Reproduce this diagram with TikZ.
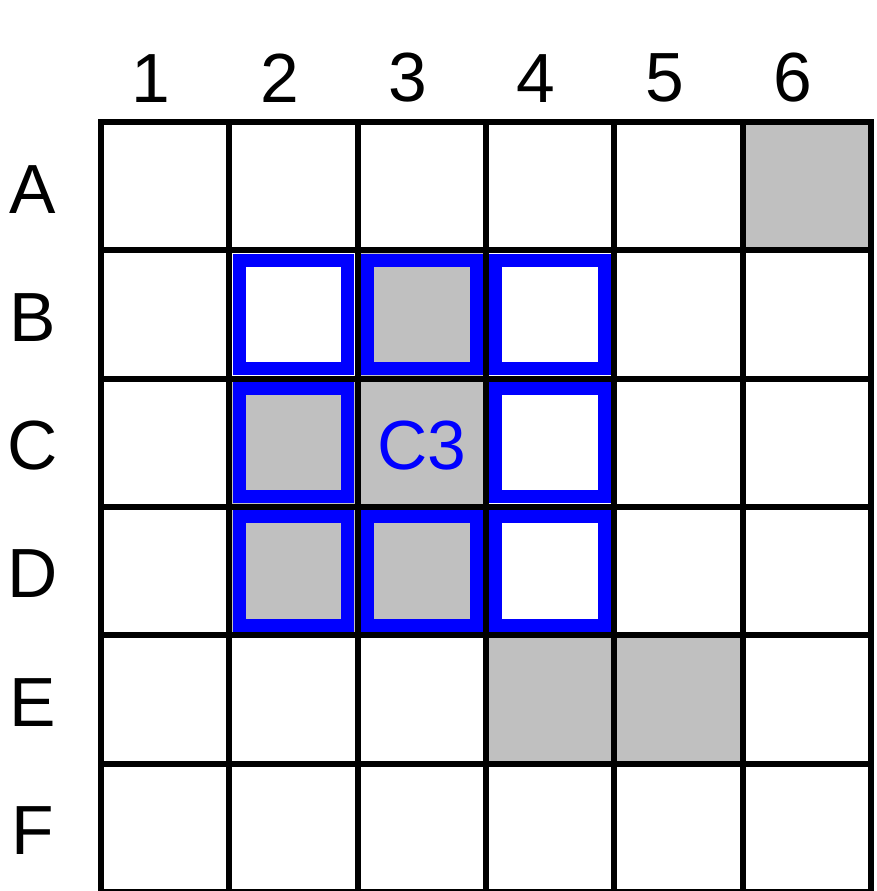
\documentclass[tikz,border=0pt]{standalone}
\usepackage{fontspec}
\setmainfont{Liberation Sans}
\usetikzlibrary{positioning,backgrounds}
\definecolor{silver}{RGB}{192,192,192}
\definecolor{ringblue}{RGB}{0,0,255}

\begin{document}
\begin{tikzpicture}[
  cell/.style={draw,line width=1.2mm,minimum size=25.66mm,inner sep=0pt,outer sep=0pt},
  ring/.style={draw=ringblue,line width=2.6mm,minimum size=21.7mm,inner sep=0pt},
  lbl/.style={font=\fontsize{39.6}{47}\selectfont,inner sep=0pt}
]
\useasboundingbox (-2.02,2.44) rectangle (15.5,-15.38);
% board
\foreach \r [count=\i] in {A,...,F}
  \foreach \c in {1,...,6}
    \node[cell] (\r\c) at ({(\c-0.5)*2.566},{-(\i-0.5)*2.566}) {};
% grey cells and neighbours of C3, under the grid lines
\begin{scope}[on background layer]
  \foreach \n in {A6,B3,C2,C3,D2,D3,E4,E5}
    \fill[silver] (\n.north west) rectangle (\n.south east);
  \foreach \n in {B2,B3,B4,C2,C4,D2,D3,D4}
    \node[ring] (ring\n) at (\n) {};
\end{scope}
\node[lbl,text=ringblue,yshift=-0.6mm] (mid) at (C3) {C3};
% headings
\foreach \c in {1,...,6}
  \node[lbl,above=3.8mm of A\c,xshift=-2.8mm] (col\c) {\c};
\foreach \r in {A,...,F}
  \node[lbl] (row\r) at ([xshift=-13.6mm,yshift=-0.6mm]\r1.west) {\r};
\end{tikzpicture}
\end{document}
